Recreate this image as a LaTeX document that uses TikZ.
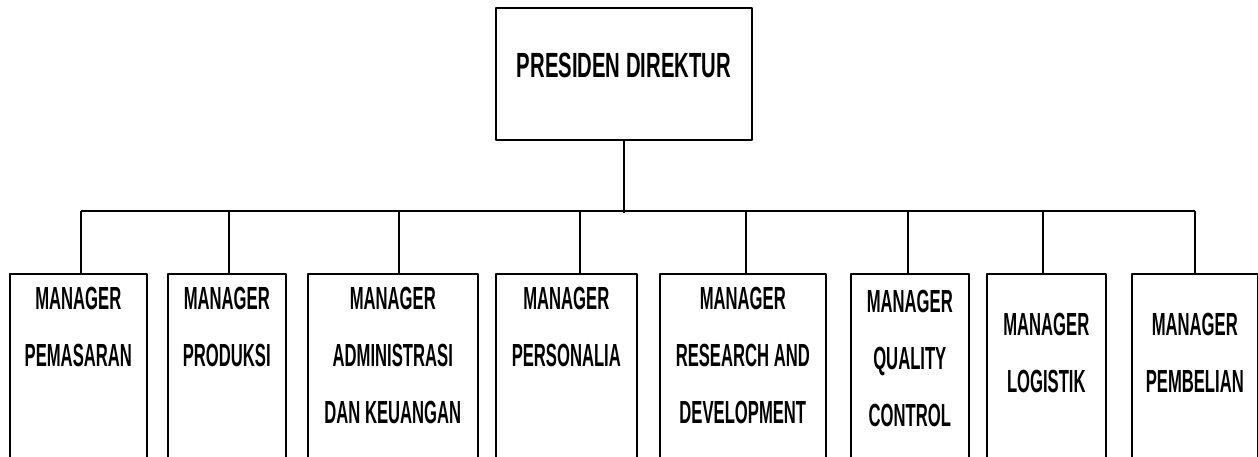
\documentclass[tikz,border=0pt]{standalone}
\usepackage{fontspec}
\newfontfamily\pdfont{Liberation Sans}[FakeStretch=0.58]
\newfontfamily\mgrfont{Liberation Sans}[FakeStretch=0.52]
\tikzset{
  pdbox/.style={draw, line width=1.6pt, minimum width=256pt, minimum height=132pt, inner sep=0pt},
  pdtext/.style={font=\pdfont\bfseries\fontsize{35}{40}\selectfont, inner sep=0pt},
  mgrbox/.style={draw, line width=1.6pt, minimum height=200pt, inner sep=0pt},
  mgrtext/.style={font=\mgrfont\bfseries\fontsize{32}{57}\selectfont, align=center, inner sep=0pt},
  conn/.style={line width=1.2pt},
  bus/.style={line width=2pt}
}
\begin{document}
\begin{tikzpicture}[x=1pt, y=-1pt, line join=round]
  \useasboundingbox (0,0) rectangle (1258,456);
  \clip (0,0) rectangle (1258,456);
  % top
  \node[pdbox] (pd) at (624,74) {};
  \node[pdtext] (pd-t) at (624,65) {PRESIDEN DIREKTUR};
  % managers: name/left/right/drop/text offset/text
  \foreach \n/\l/\r/\d/\t/\txt in {
    m1/9/146/81/14/{MANAGER\\PEMASARAN},
    m2/167/285/229/14/{MANAGER\\PRODUKSI},
    m3/307/477/399/14/{MANAGER\\ADMINISTRASI\\DAN KEUANGAN},
    m4/495/636/580/14/{MANAGER\\PERSONALIA},
    m5/659/825/746/14/{MANAGER\\RESEARCH AND\\DEVELOPMENT},
    m6/850/968/908/17/{MANAGER\\QUALITY\\CONTROL},
    m7/986/1105/1043/40/{MANAGER\\LOGISTIK},
    m8/1131/1257/1195/40/{MANAGER\\PEMBELIAN}}{
    \node[mgrbox, minimum width={\r-\l}, anchor=north west] (\n) at (\l,273) {};
    \node[mgrtext, anchor=north] (\n-t) at ([yshift=-\t pt]\n.north) {\txt};
    \coordinate (\n-d) at (\d,211);
    \draw[conn] (\n-d) -- (\n-d |- \n.north);
  }
  \draw[bus] (m1-d) -- (m8-d);
  \draw[conn] (pd.south) -- ([yshift=-2pt]pd.south |- m1-d);
\end{tikzpicture}
\end{document}
